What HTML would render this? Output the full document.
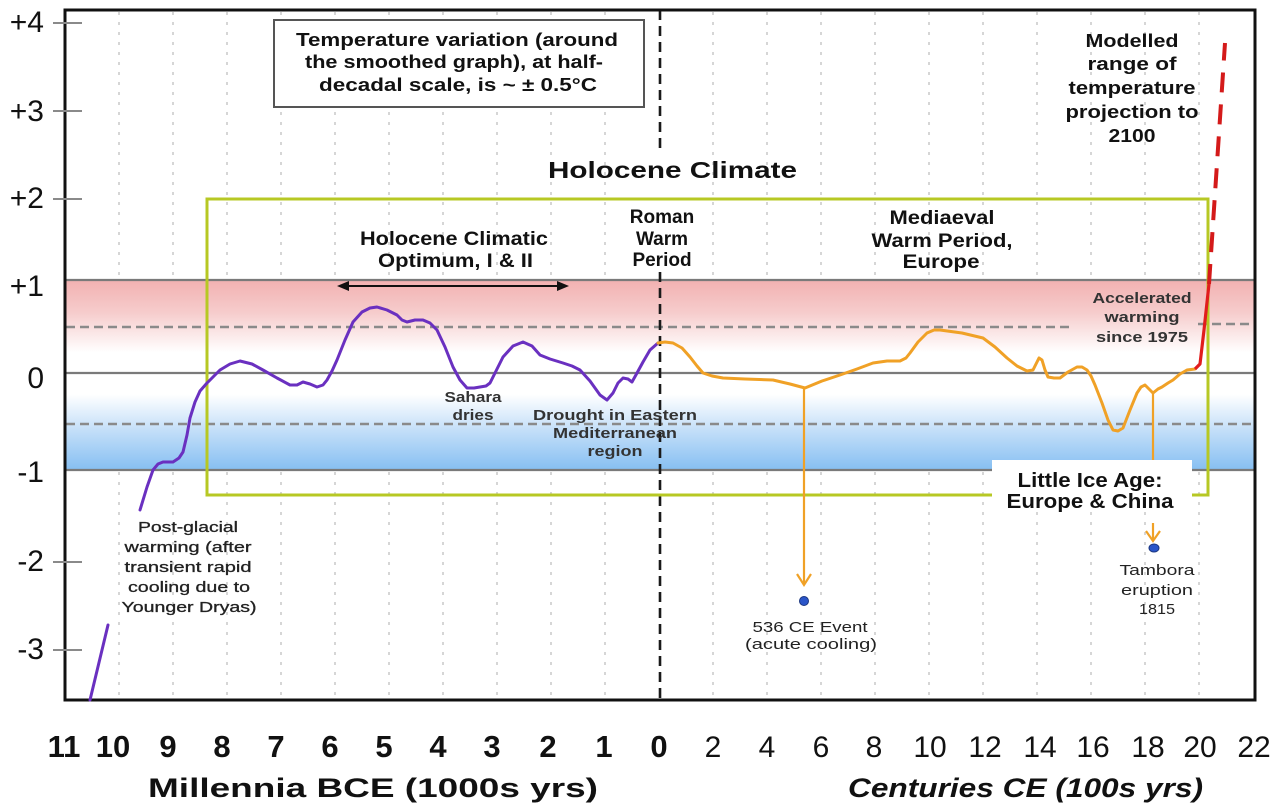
<!DOCTYPE html>
<html>
<head>
<meta charset="utf-8">
<style>
html,body{margin:0;padding:0;background:#fff;}
svg{display:block;}
text{font-family:"Liberation Sans",Arial,sans-serif;}
</style>
</head>
<body>
<svg width="1280" height="811" viewBox="0 0 1280 811" xmlns="http://www.w3.org/2000/svg">
<defs>
<linearGradient id="pink" x1="0" y1="0" x2="0" y2="1">
<stop offset="0" stop-color="#f2b1b1"/>
<stop offset="0.35" stop-color="#f6cccc"/>
<stop offset="0.78" stop-color="#ffffff"/>
<stop offset="1" stop-color="#ffffff"/>
</linearGradient>
<linearGradient id="blue" x1="0" y1="0" x2="0" y2="1">
<stop offset="0" stop-color="#ffffff"/>
<stop offset="0.22" stop-color="#ffffff"/>
<stop offset="0.6" stop-color="#c2def8"/>
<stop offset="1" stop-color="#86bff2"/>
</linearGradient>
</defs>

<rect x="0" y="0" width="1280" height="811" fill="#fff"/>

<!-- vertical dotted grid -->
<g stroke="#c8c8c8" stroke-width="1.5" stroke-dasharray="3,7">
<line x1="119" y1="12" x2="119" y2="698"/>
<line x1="173" y1="12" x2="173" y2="698"/>
<line x1="227" y1="12" x2="227" y2="698"/>
<line x1="281" y1="12" x2="281" y2="698"/>
<line x1="335" y1="12" x2="335" y2="698"/>
<line x1="389" y1="12" x2="389" y2="698"/>
<line x1="443" y1="12" x2="443" y2="698"/>
<line x1="497" y1="12" x2="497" y2="698"/>
<line x1="551" y1="12" x2="551" y2="698"/>
<line x1="605" y1="12" x2="605" y2="698"/>
<line x1="713" y1="12" x2="713" y2="698"/>
<line x1="767" y1="12" x2="767" y2="698"/>
<line x1="821" y1="12" x2="821" y2="698"/>
<line x1="875" y1="12" x2="875" y2="698"/>
<line x1="929" y1="12" x2="929" y2="698"/>
<line x1="983" y1="12" x2="983" y2="698"/>
<line x1="1037" y1="12" x2="1037" y2="698"/>
<line x1="1091" y1="12" x2="1091" y2="698"/>
<line x1="1145" y1="12" x2="1145" y2="698"/>
<line x1="1199" y1="12" x2="1199" y2="698"/>
</g>

<!-- bands -->
<rect x="65" y="280" width="1190" height="93" fill="url(#pink)"/>
<rect x="65" y="373" width="1190" height="97" fill="url(#blue)"/>
<g stroke="#7a7a7a" stroke-width="2.2">
<line x1="65" y1="280" x2="1255" y2="280"/>
<line x1="65" y1="373" x2="1255" y2="373"/>
<line x1="65" y1="470" x2="1255" y2="470"/>
</g>
<g stroke="#8a8a8a" stroke-width="2.6" stroke-dasharray="9,5">
<line x1="66" y1="327" x2="1072" y2="327"/>
<line x1="1198" y1="324" x2="1255" y2="324"/>
<line x1="66" y1="424" x2="1255" y2="424"/>
</g>

<!-- black dashed divider -->
<g stroke="#1a1a1a" stroke-width="2.6" stroke-dasharray="10,6">
<line x1="660" y1="10" x2="660" y2="150"/>
<line x1="660" y1="272" x2="660" y2="700"/>
</g>

<!-- green box -->
<rect x="207" y="199" width="1001" height="296" fill="none" stroke="#b7c824" stroke-width="3"/>

<!-- Little Ice Age box (white) -->
<rect x="992" y="460" width="200" height="52" fill="#fff"/>

<!-- frame -->
<rect x="65" y="10" width="1190" height="690" fill="none" stroke="#111" stroke-width="3"/>

<!-- y ticks -->
<g stroke="#8a8a8a" stroke-width="2">
<line x1="53" y1="23" x2="82" y2="23"/>
<line x1="53" y1="111" x2="82" y2="111"/>
<line x1="53" y1="199" x2="82" y2="199"/>
<line x1="53" y1="562" x2="82" y2="562"/>
<line x1="53" y1="650" x2="82" y2="650"/>
</g>

<!-- y labels -->
<g font-size="30" fill="#111" text-anchor="end">
<text x="44" y="32">+4</text>
<text x="44" y="121">+3</text>
<text x="44" y="208">+2</text>
<text x="44" y="296">+1</text>
<text x="44" y="388">0</text>
<text x="44" y="482">-1</text>
<text x="44" y="571">-2</text>
<text x="44" y="659">-3</text>
</g>

<!-- x labels -->
<g font-size="31" font-weight="bold" fill="#111" text-anchor="middle">
<text x="64" y="757">11</text>
<text x="113" y="757">10</text>
<text x="168" y="757">9</text>
<text x="222" y="757">8</text>
<text x="276" y="757">7</text>
<text x="330" y="757">6</text>
<text x="384" y="757">5</text>
<text x="438" y="757">4</text>
<text x="492" y="757">3</text>
<text x="548" y="757">2</text>
<text x="604" y="757">1</text>
<text x="659" y="757">0</text>
</g>
<g font-size="30" fill="#111" text-anchor="middle">
<text x="713" y="757">2</text>
<text x="767" y="757">4</text>
<text x="821" y="757">6</text>
<text x="874" y="757">8</text>
<text x="930" y="757">10</text>
<text x="985" y="757">12</text>
<text x="1040" y="757">14</text>
<text x="1093" y="757">16</text>
<text x="1148" y="757">18</text>
<text x="1200" y="757">20</text>
<text x="1254" y="757">22</text>
</g>

<!-- axis titles -->
<text x="148" y="797" font-size="27" font-weight="bold" fill="#111" textLength="450" lengthAdjust="spacingAndGlyphs">Millennia BCE (1000s yrs)</text>
<text x="848" y="797" font-size="27" font-weight="bold" font-style="italic" fill="#111" textLength="355" lengthAdjust="spacingAndGlyphs">Centuries CE (100s yrs)</text>

<!-- info box -->
<rect x="274" y="20" width="370" height="87" fill="#fff" stroke="#555" stroke-width="2"/>
<g font-size="18" font-weight="bold" fill="#111">
<text x="296" y="46" textLength="322" lengthAdjust="spacingAndGlyphs">Temperature variation (around</text>
<text x="305" y="68" textLength="298" lengthAdjust="spacingAndGlyphs">the smoothed graph), at half-</text>
<text x="319" y="91" textLength="278" lengthAdjust="spacingAndGlyphs">decadal scale, is  ~ ± 0.5°C</text>
</g>

<!-- Holocene Climate title -->
<text x="548" y="178" font-size="23" font-weight="bold" fill="#111" textLength="249" lengthAdjust="spacingAndGlyphs">Holocene Climate</text>

<!-- Optimum -->
<g font-size="19" font-weight="bold" fill="#111">
<text x="360" y="245" textLength="188" lengthAdjust="spacingAndGlyphs">Holocene Climatic</text>
<text x="378" y="267" textLength="155" lengthAdjust="spacingAndGlyphs">Optimum, I &amp; II</text>
</g>
<line x1="346" y1="286" x2="560" y2="286" stroke="#111" stroke-width="2"/>
<polygon points="337,286 349,281 349,291" fill="#111"/>
<polygon points="569,286 557,281 557,291" fill="#111"/>

<!-- Roman -->
<g font-size="19" font-weight="bold" fill="#111" text-anchor="middle">
<text x="662" y="223">Roman</text>
<text x="662" y="245">Warm</text>
<text x="662" y="266">Period</text>
</g>

<!-- Mediaeval -->
<g font-size="19" font-weight="bold" fill="#111" text-anchor="middle">
<text x="942" y="224" textLength="105" lengthAdjust="spacingAndGlyphs">Mediaeval</text>
<text x="942" y="247" textLength="141" lengthAdjust="spacingAndGlyphs">Warm Period,</text>
<text x="941" y="268" textLength="77" lengthAdjust="spacingAndGlyphs">Europe</text>
</g>

<!-- Modelled -->
<g font-size="18" font-weight="bold" fill="#111" text-anchor="middle">
<text x="1132" y="47" textLength="93" lengthAdjust="spacingAndGlyphs">Modelled</text>
<text x="1132" y="70" textLength="89" lengthAdjust="spacingAndGlyphs">range of</text>
<text x="1132" y="94" textLength="127" lengthAdjust="spacingAndGlyphs">temperature</text>
<text x="1132" y="118" textLength="133" lengthAdjust="spacingAndGlyphs">projection to</text>
<text x="1132" y="142" textLength="47" lengthAdjust="spacingAndGlyphs">2100</text>
</g>

<!-- Accelerated -->
<g font-size="15" font-weight="bold" fill="#333" text-anchor="middle">
<text x="1142" y="303" textLength="99" lengthAdjust="spacingAndGlyphs">Accelerated</text>
<text x="1142" y="322" textLength="75" lengthAdjust="spacingAndGlyphs">warming</text>
<text x="1142" y="342" textLength="92" lengthAdjust="spacingAndGlyphs">since 1975</text>
</g>

<!-- Little Ice Age text -->
<g font-size="20" font-weight="bold" fill="#111" text-anchor="middle">
<text x="1090" y="487" textLength="145" lengthAdjust="spacingAndGlyphs">Little  Ice Age:</text>
<text x="1090" y="508" textLength="167" lengthAdjust="spacingAndGlyphs">Europe &amp; China</text>
</g>

<!-- Post-glacial -->
<g font-size="15" fill="#222" text-anchor="middle" stroke="#222" stroke-width="0.3">
<text x="188" y="532" textLength="100" lengthAdjust="spacingAndGlyphs">Post-glacial</text>
<text x="188" y="552" textLength="127" lengthAdjust="spacingAndGlyphs">warming  (after</text>
<text x="188" y="572" textLength="127" lengthAdjust="spacingAndGlyphs">transient rapid</text>
<text x="189" y="592" textLength="122" lengthAdjust="spacingAndGlyphs">cooling due to</text>
<text x="189" y="612" textLength="135" lengthAdjust="spacingAndGlyphs">Younger Dryas)</text>
</g>

<!-- Sahara -->
<g font-size="15" font-weight="bold" fill="#333" text-anchor="middle">
<text x="473" y="402" textLength="57" lengthAdjust="spacingAndGlyphs">Sahara</text>
<text x="473" y="420" textLength="41" lengthAdjust="spacingAndGlyphs">dries</text>
</g>

<!-- Drought -->
<g font-size="15" font-weight="bold" fill="#333" text-anchor="middle">
<text x="615" y="420" textLength="164" lengthAdjust="spacingAndGlyphs">Drought in Eastern</text>
<text x="615" y="438" textLength="124" lengthAdjust="spacingAndGlyphs">Mediterranean</text>
<text x="615" y="456" textLength="55" lengthAdjust="spacingAndGlyphs">region</text>
</g>

<!-- 536 event -->
<line x1="804" y1="388" x2="804" y2="584" stroke="#f0a126" stroke-width="2.2"/>
<polyline points="797,574 804,585 811,574" fill="none" stroke="#f0a126" stroke-width="2.2"/>
<ellipse cx="804" cy="601" rx="4.5" ry="4.5" fill="#2a55c8" stroke="#1b3680" stroke-width="1"/>
<g font-size="15" fill="#222" text-anchor="middle">
<text x="810" y="632" textLength="115" lengthAdjust="spacingAndGlyphs">536 CE Event</text>
<text x="811" y="649" textLength="132" lengthAdjust="spacingAndGlyphs">(acute cooling)</text>
</g>

<!-- Tambora -->
<line x1="1153" y1="393" x2="1153" y2="460" stroke="#f0a126" stroke-width="2.2"/>
<line x1="1153" y1="523" x2="1153" y2="540" stroke="#f0a126" stroke-width="2.2"/>
<polyline points="1146,531 1153,541 1160,531" fill="none" stroke="#f0a126" stroke-width="2.2"/>
<ellipse cx="1154" cy="548" rx="5" ry="4" fill="#2a55c8" stroke="#1b3680" stroke-width="1"/>
<g font-size="15" fill="#222" text-anchor="middle">
<text x="1157" y="575" textLength="75" lengthAdjust="spacingAndGlyphs">Tambora</text>
<text x="1157" y="595" textLength="72" lengthAdjust="spacingAndGlyphs">eruption</text>
<text x="1157" y="614" textLength="36" lengthAdjust="spacingAndGlyphs">1815</text>
</g>

<!-- purple curve -->
<polyline points="90,700 108,625" fill="none" stroke="#6a30c0" stroke-width="3" stroke-linecap="round"/>
<polyline points="140,510 147,487 153,470 158,464 163,462 173,462 179,458 183,452 187,435 190,418 195,402 200,391 207,383 214,376 220,370 230,364 240,361 252,364 263,370 277,378 290,385 297,385 303,382 310,384 317,387 323,385 327,380 332,371 337,360 345,340 353,322 362,312 370,308 377,307 387,310 397,315 402,320 407,322 415,320 423,320 430,323 437,330 445,347 453,367 460,380 467,388 474,388 480,387 486,386 490,383 496,371 503,357 513,346 523,342 532,346 540,355 550,359 563,363 572,366 580,370 590,381 600,395 607,400 613,393 618,383 623,378 628,379 632,382 637,373 643,362 650,350 658,343" fill="none" stroke="#6a30c0" stroke-width="3" stroke-linejoin="round" stroke-linecap="round"/>

<!-- orange curve -->
<polyline points="658,343 665,342 673,343 682,348 690,357 697,366 703,373 712,376 723,378 745,379 773,380 790,384 805,388 822,381 840,375 857,369 873,363 887,361 900,361 906,358 910,353 918,342 927,333 934,330 940,330 962,333 983,338 995,347 1007,358 1017,366 1027,371 1033,370 1036,364 1039,358 1042,360 1045,370 1048,377 1054,378 1060,378 1068,372 1077,367 1082,367 1087,370 1091,376 1095,385 1102,403 1108,420 1113,430 1118,431 1123,428 1130,410 1137,393 1141,387 1145,385 1149,389 1153,393 1158,389 1162,387 1168,383 1173,380 1180,374 1187,370 1195,369" fill="none" stroke="#f0a126" stroke-width="3" stroke-linejoin="round" stroke-linecap="round"/>

<!-- red -->
<polyline points="1195,369 1200,364 1204,330 1209,284" fill="none" stroke="#e11d1d" stroke-width="3.2" stroke-linejoin="round"/>
<line x1="1209" y1="284" x2="1225" y2="43" stroke="#d41a1a" stroke-width="4" stroke-dasharray="20,12"/>

</svg>
</body>
</html>
